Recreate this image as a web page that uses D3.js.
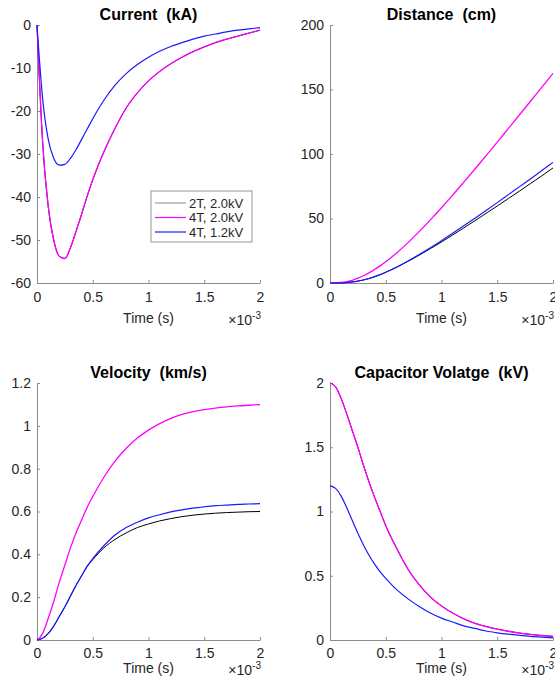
<!DOCTYPE html>
<html>
<head>
<meta charset="utf-8">
<script src="https://cdn.jsdelivr.net/npm/d3@7"></script>
<style>
  body { margin: 0; background: #fff; }
  svg { display: block; font-family: "Liberation Sans", Arial, sans-serif; }
</style>
</head>
<body>
<div id="chart"></div>
<script>
// time in ms (axis shows x10^-3 s)
const timeMs = [0, 0.05, 0.1, 0.15, 0.2, 0.25, 0.3, 0.35, 0.4, 0.45, 0.5,
  0.6, 0.7, 0.8, 0.9, 1.0, 1.1, 1.2, 1.3, 1.4, 1.5, 1.6, 1.7, 1.8, 1.9, 2.0];

const seriesNames = ["2T, 2.0kV", "4T, 2.0kV", "4T, 1.2kV"];
const seriesColors = ["#000000", "#ff00ff", "#1a1aff"];
const seriesWidths = [1.0, 1.3, 1.2];

// Current (kA)
const current2T20 = [0, -27, -42, -50, -53.8, -54.3, -51.8, -48, -44, -39.8, -36,
  -29.5, -24, -19.3, -15.8, -13, -10.8, -9, -7.5, -6.2, -5.1, -4.1, -3.3, -2.6, -1.9, -1.2];
const current4T20 = [0, -27, -42, -50, -53.8, -54.3, -51.8, -48, -44, -39.8, -36,
  -29.5, -24, -19.3, -15.8, -13, -10.8, -9, -7.5, -6.2, -5.1, -4.1, -3.3, -2.6, -1.9, -1.2];
const current4T12 = [0, -17, -26.5, -31, -32.6, -32.4, -31, -29, -26.6, -24.2, -21.8,
  -17.5, -14, -11.3, -9.2, -7.5, -6.1, -5, -4.1, -3.3, -2.6, -2.1, -1.6, -1.2, -0.9, -0.6];

// Distance (cm)
const dist2T20 = [0, 0.02, 0.11, 0.36, 0.8, 1.45, 2.35, 3.5, 4.9, 6.5, 8.3,
  12.3, 16.8, 21.6, 26.6, 31.8, 37.2, 42.7, 48.3, 54, 59.7, 65.5, 71.3, 77.2, 83.1, 89.2];
const dist4T20 = [0, 0.07, 0.4, 1.1, 2.1, 3.7, 5.6, 7.8, 10.5, 13.3, 16.4,
  23.5, 31.3, 39.8, 48.9, 58.3, 68.1, 78.2, 88.4, 98.8, 109.2, 119.8, 130.4, 141.1, 151.8, 162.5];
const dist4T12 = [0, 0.02, 0.11, 0.36, 0.8, 1.45, 2.35, 3.5, 4.9, 6.5, 8.3,
  12.4, 17, 22, 27.3, 32.8, 38.5, 44.3, 50.2, 56.2, 62.3, 68.5, 74.7, 80.9, 87.2, 93.5];

// Velocity (km/s)
const vel2T20 = [0, 0.008, 0.03, 0.065, 0.11, 0.155, 0.205, 0.255, 0.3, 0.343, 0.375,
  0.43, 0.47, 0.5, 0.525, 0.542, 0.556, 0.567, 0.576, 0.583, 0.588, 0.592, 0.595, 0.597, 0.599, 0.6];
const vel4T20 = [0, 0.03, 0.1, 0.18, 0.27, 0.35, 0.43, 0.5, 0.56, 0.62, 0.67,
  0.76, 0.835, 0.895, 0.943, 0.98, 1.01, 1.035, 1.053, 1.066, 1.076, 1.083, 1.089, 1.093, 1.096, 1.099];
const vel4T12 = [0, 0.008, 0.03, 0.065, 0.11, 0.155, 0.205, 0.255, 0.3, 0.345, 0.38,
  0.44, 0.49, 0.525, 0.55, 0.57, 0.585, 0.598, 0.608, 0.616, 0.622, 0.627, 0.63, 0.633, 0.635, 0.637];

// Capacitor voltage (kV)
const volt2T20 = [2, 1.97, 1.88, 1.76, 1.63, 1.5, 1.36, 1.23, 1.11, 1.0, 0.89,
  0.71, 0.55, 0.43, 0.335, 0.265, 0.21, 0.165, 0.13, 0.105, 0.085, 0.068, 0.054, 0.043, 0.035, 0.028];
const volt4T20 = [2, 1.97, 1.88, 1.76, 1.63, 1.5, 1.36, 1.23, 1.11, 1.0, 0.89,
  0.71, 0.55, 0.43, 0.335, 0.265, 0.21, 0.165, 0.13, 0.105, 0.085, 0.068, 0.054, 0.043, 0.035, 0.028];
const volt4T12 = [1.2, 1.18, 1.12, 1.03, 0.93, 0.83, 0.74, 0.66, 0.59, 0.53, 0.48,
  0.39, 0.32, 0.26, 0.21, 0.17, 0.14, 0.11, 0.09, 0.07, 0.056, 0.045, 0.036, 0.028, 0.022, 0.017];

const xTicks = [0, 0.5, 1, 1.5, 2];
const currentTicks = [0, -10, -20, -30, -40, -50, -60];
const distTicks = [0, 50, 100, 150, 200];
const velTicks = [0, 0.2, 0.4, 0.6, 0.8, 1, 1.2];
const voltTicks = [0, 0.5, 1, 1.5, 2];

const width = 555, height = 685;
const axisColor = "#8c8c8c", textColor = "#262626";

const svg = d3.select("#chart").append("svg")
  .attr("width", width).attr("height", height);

const panels = [
  {title: "Current  (kA)", box: [37, 260, 25, 283], yDomain: [-60, 0], yTicks: currentTicks,
   data: [current2T20, current4T20, current4T12], legend: true, tickY: 14, xlab: 318},
  {title: "Distance  (cm)", box: [330, 553, 25, 283], yDomain: [0, 200], yTicks: distTicks,
   data: [dist2T20, dist4T20, dist4T12], tickY: 14, xlab: 318},
  {title: "Velocity  (km/s)", box: [37, 260, 383, 640], yDomain: [0, 1.2], yTicks: velTicks,
   data: [vel2T20, vel4T20, vel4T12], tickY: 13, xlab: 668},
  {title: "Capacitor Volatge  (kV)", box: [330, 553, 383, 640], yDomain: [0, 2], yTicks: voltTicks,
   data: [volt2T20, volt4T20, volt4T12], tickY: 13, xlab: 668}
];

panels.forEach(p => {
  const [x0, x1, yT, yB] = p.box;
  const x = d3.scaleLinear().domain([0, 2]).range([x0, x1]);
  const y = d3.scaleLinear().domain(p.yDomain).range([yB, yT]);
  const g = svg.append("g");

  // axes, MATLAB style ticks pointing in
  const xAxis = g.append("g").attr("transform", `translate(0,${yB})`)
    .call(d3.axisBottom(x).tickValues(xTicks).tickSizeInner(-3).tickSizeOuter(0)
      .tickFormat(d => String(d)));
  const yAxis = g.append("g").attr("transform", `translate(${x0},0)`)
    .call(d3.axisLeft(y).tickValues(p.yTicks).tickSizeInner(-3).tickSizeOuter(0).tickPadding(6)
      .tickFormat(d => String(d)));
  [xAxis, yAxis].forEach(a => {
    a.select(".domain").attr("stroke", axisColor);
    a.selectAll(".tick line").attr("stroke", axisColor);
    a.selectAll(".tick text").attr("fill", textColor)
      .style("font-size", "14px").style("font-family", "'Liberation Sans', Arial, sans-serif");
  });
  xAxis.selectAll(".tick text").attr("dy", "0.35em").attr("y", p.tickY);

  const line = d3.line()
    .x((d, i) => x(timeMs[i]))
    .y(d => y(d))
    .curve(d3.curveMonotoneX);

  p.data.forEach((s, k) => {
    g.append("path").datum(s)
      .attr("d", line)
      .attr("fill", "none")
      .attr("stroke", seriesColors[k])
      .attr("stroke-width", seriesWidths[k]);
  });

  g.append("text")
    .attr("x", (x0 + x1) / 2).attr("y", yT - 11 + 5.5)
    .attr("text-anchor", "middle")
    .style("font-size", "16px").style("font-weight", "bold")
    .style("white-space", "pre")
    .attr("fill", "#000")
    .text(p.title);

  g.append("text")
    .attr("x", (x0 + x1) / 2).attr("y", p.xlab + 5)
    .attr("text-anchor", "middle")
    .style("font-size", "14px")
    .attr("fill", textColor)
    .text("Time (s)");

  const mult = g.append("text")
    .attr("x", x1 + 1).attr("y", p.xlab + 7)
    .attr("text-anchor", "end")
    .style("font-size", "14px")
    .attr("fill", textColor);
  mult.append("tspan").text("\u00d710");
  mult.append("tspan").attr("dy", -6).style("font-size", "10px").text("-3");

  if (p.legend) {
    const lg = g.append("g").attr("transform", "translate(151,191)");
    lg.append("rect").attr("width", 101).attr("height", 51)
      .attr("fill", "#fff").attr("stroke", "#7a7a7a").attr("stroke-width", 0.8);
    const legendColors = ["#9a9a9a", seriesColors[1], seriesColors[2]];
    seriesNames.forEach((n, k) => {
      const yy = 12 + k * 14.5;
      lg.append("line").attr("x1", 4).attr("x2", 35).attr("y1", yy).attr("y2", yy)
        .attr("stroke", legendColors[k]).attr("stroke-width", 1.2);
      lg.append("text").attr("x", 38).attr("y", yy).attr("dy", "0.35em")
        .style("font-size", "13px").attr("fill", textColor).text(n);
    });
  }
});
</script>
</body>
</html>
